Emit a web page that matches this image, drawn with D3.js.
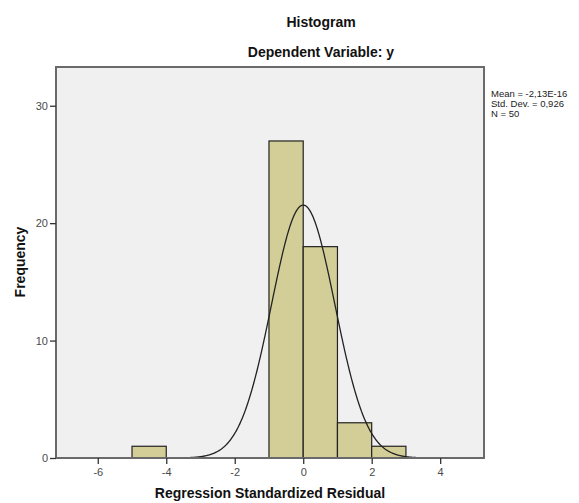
<!DOCTYPE html>
<meta charset="utf-8">
<title>Histogram</title>
<style>
body {
  margin: 0;
  background: #fff;
}
text {
  font-family: Arial, "Liberation Sans", sans-serif;
}
</style>
<body>
<script src="https://d3js.org/d3.v7.min.js"></script>
<script>
// bins of the regression standardized residual
var binStarts = [-5, -1, 0, 1, 2],
    binCounts = [1, 27, 18, 3, 1],
    xTicks = [-6, -4, -2, 0, 2, 4],
    yTicks = [0, 10, 20, 30],
    statLines = ["Mean = -2,13E-16", "Std. Dev. = 0,926", "N = 50"];
var mean = 0, sd = 0.926, n = 50, binWidth = 1;

var w = 579,
    h = 503,
    pLeft = 56,
    pTop = 67,
    pRight = 484,
    pBottom = 458;

var svg = d3.select("body").append("svg")
    .attr("width", w)
    .attr("height", h);

var x = d3.scaleLinear().domain([-7.22, 5.28]).range([pLeft, pRight]);
var y = d3.scaleLinear().domain([0, 33.3]).range([pBottom, pTop]);

svg.append("rect")
    .attr("x", pLeft)
    .attr("y", pTop)
    .attr("width", pRight - pLeft)
    .attr("height", pBottom - pTop)
    .style("fill", "#f0f0f0");

svg.selectAll("rect.bar")
    .data(binStarts)
  .enter().append("rect")
    .attr("class", "bar")
    .attr("x", function(d) { return x(d); })
    .attr("y", function(d, i) { return y(binCounts[i]); })
    .attr("width", function(d) { return x(d + binWidth) - x(d); })
    .attr("height", function(d, i) { return pBottom - y(binCounts[i]); })
    .style("fill", "#d3ce97")
    .style("stroke", "#222")
    .style("stroke-width", 1.2);

// fitted normal curve from the reported mean and std. dev.
var curveXs = d3.range(-7.2, 5.28, 0.02);
var line = d3.line()
    .x(function(d) { return x(d); })
    .y(function(d) {
      var z = (d - mean) / sd;
      return y(n * binWidth / (sd * Math.sqrt(2 * Math.PI)) * Math.exp(-z * z / 2));
    });
svg.append("path")
    .datum(curveXs)
    .attr("d", line)
    .style("fill", "none")
    .style("stroke", "#222")
    .style("stroke-width", 1.3);

svg.append("rect")
    .attr("x", pLeft)
    .attr("y", pTop)
    .attr("width", pRight - pLeft)
    .attr("height", pBottom - pTop)
    .style("fill", "none")
    .style("stroke", "#6a6a6a")
    .style("stroke-width", 2);

var fmt = function(d) { return String(d); };
var xAxis = svg.append("g")
    .attr("transform", "translate(0," + pBottom + ")")
    .call(d3.axisBottom(x).tickValues(xTicks).tickFormat(fmt).tickSize(6).tickPadding(4));
var yAxis = svg.append("g")
    .attr("transform", "translate(" + pLeft + ",0)")
    .call(d3.axisLeft(y).tickValues(yTicks).tickFormat(fmt).tickSize(6).tickPadding(2));
[xAxis, yAxis].forEach(function(g) {
  g.select(".domain").remove();
  g.selectAll("line").style("stroke", "#333").style("stroke-width", 1.3);
  g.selectAll("text")
      .attr("fill", null)
      .style("font-family", "Arial, 'Liberation Sans', sans-serif")
      .style("font-size", "11px")
      .style("fill", "#4a4a4a");
});

svg.append("text")
    .attr("x", 321)
    .attr("y", 27)
    .attr("text-anchor", "middle")
    .style("font-size", "14px")
    .style("font-weight", "bold")
    .style("fill", "#111")
    .text("Histogram");
svg.append("text")
    .attr("x", 321)
    .attr("y", 57)
    .attr("text-anchor", "middle")
    .style("font-size", "14px")
    .style("font-weight", "bold")
    .style("fill", "#111")
    .text("Dependent Variable: y");
svg.append("text")
    .attr("transform", "translate(25,262)rotate(-90)")
    .attr("text-anchor", "middle")
    .style("font-size", "14px")
    .style("font-weight", "bold")
    .style("fill", "#111")
    .text("Frequency");
svg.append("text")
    .attr("x", 270)
    .attr("y", 498)
    .attr("text-anchor", "middle")
    .style("font-size", "14px")
    .style("font-weight", "bold")
    .style("fill", "#111")
    .text("Regression Standardized Residual");

svg.selectAll("text.stat")
    .data(statLines)
  .enter().append("text")
    .attr("class", "stat")
    .attr("x", 491)
    .attr("y", function(d, i) { return 97 + i * 9.8; })
    .style("font-size", "9.5px")
    .style("fill", "#222")
    .text(function(d) { return d; });
</script>
